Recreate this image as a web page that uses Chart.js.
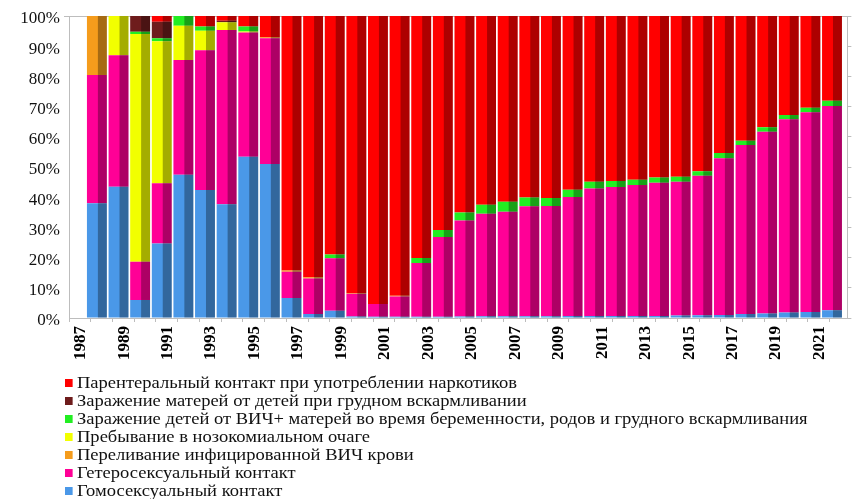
<!DOCTYPE html>
<html lang="ru">
<head>
<meta charset="utf-8">
<script src="https://cdn.jsdelivr.net/npm/chart.js@4.4.1/dist/chart.umd.min.js"></script>
<style>
body{margin:0;background:#fff;width:854px;height:499px;overflow:hidden;font-family:'Liberation Serif','Times New Roman',serif;}
#wrap{position:absolute;left:0;top:0;width:854px;height:378px;}
#legenda{position:absolute;left:65px;top:374px;transform:scaleX(1.09);transform-origin:0 0;}
#legenda div{height:18px;font-size:17px;color:#111;white-space:nowrap;display:flex;align-items:center;}
#legenda span.q{width:7px;height:8px;margin-right:4px;flex:none;}
</style>
</head>
<body>
<div id="wrap"><canvas id="grafico"></canvas></div>
<div id="legenda"></div>
<script>
const years = [1987,1988,1989,1990,1991,1992,1993,1994,1995,1996,1997,1998,1999,2000,2001,2002,2003,2004,2005,2006,
  2007,2008,2009,2010,2011,2012,2013,2014,2015,2016,2017,2018,2019,2020,2021];

// доли путей заражения, % (снизу вверх по стопке)
const homosexual = [38,43.5,6,24.7,47.4,42.4,37.7,53.4,51,6.6,1.3,2.4,0.5,0.4,0.4,0.4,0.4,0.5,0.6,0.6,
  0.6,0.6,0.7,0.7,0.7,0.7,0.7,0.8,0.9,1,1.3,1.5,1.8,2,2.6];
const heterosexual = [42.5,43.5,12.6,19.9,38,46.3,57.7,41.1,41.6,8.7,11.8,17.4,7.5,4.2,6.7,17.8,26.4,31.8,33.9,34.6,
  36.4,36.5,39.4,42.2,42.7,43.3,44.1,44.3,46.2,51.9,56,60.2,64,66.1,67.6];
const transfusion = [19.5,0,0,0,0,0,0,0,0.4,0.4,0.4,0,0.3,0,0.3,0,0,0,0,0,
  0,0,0,0,0,0,0,0,0,0,0,0,0,0,0];
const nosocomial = [0,13,75.4,47,11.4,6.4,2.5,0.4,0,0,0,0,0,0,0,0,0,0,0,0,
  0,0,0,0,0,0,0,0,0,0,0,0,0,0,0];
const children = [0,0,0.8,1,3.2,1.4,0,1.6,0,0,0,1.2,0,0,0,1.7,2.3,2.6,3,3.3,
  2.9,2.6,2.4,2.2,2,1.8,1.7,1.7,1.5,1.7,1.4,1.5,1.4,1.5,1.7];
const mothers = [0,0,5.2,5.5,0,0,0.5,0,0,0,0,0,0,0,0,0,0,0,0,0,
  0,0,0,0,0,0,0,0,0,0,0,0,0,0,0];
const parenteral = [0,0,0,1.9,0,3.5,1.6,3.5,7,84.3,86.5,79,91.7,95.4,92.6,80.1,70.9,65.1,62.5,61.5,
  60.1,60.3,57.5,54.9,54.6,54.2,53.5,53.2,51.4,45.4,41.3,36.8,32.8,30.4,28.1];

const names = [
  'Гомосексуальный контакт',
  'Гетеросексуальный контакт',
  'Переливание  инфицированной ВИЧ крови',
  'Пребывание в нозокомиальном очаге',
  'Заражение детей от ВИЧ+ матерей во время беременности, родов и грудного вскармливания',
  'Заражение матерей от детей при грудном вскармливании',
  'Парентеральный контакт при употреблении наркотиков'
];
const series = [homosexual, heterosexual, transfusion, nosocomial, children, mothers, parenteral];
const colors = ['#4a98e8','#ff0096','#f59c1c','#f2ff00','#22ee22','#6e1c1c','#ff0000'];
const yTicks = [0,10,20,30,40,50,60,70,80,90,100];
const xLabels = years.map(a => a % 2 === 1 ? String(a) : '');

const serif = "'Liberation Serif','Times New Roman',serif";
const axisGray = '#bdbdbd';

// затемнённая боковая грань столбика (имитация 3D)
const sombra = {
  id: 'sombra',
  afterDatasetsDraw(chart){
    const ctx = chart.ctx;
    ctx.save();
    chart.data.datasets.forEach((ds, i) => {
      chart.getDatasetMeta(i).data.forEach(bar => {
        const p = bar.getProps(['x','y','base','width'], true);
        const h = p.base - p.y;
        if (h <= 0.5) return;
        const x0 = p.x - p.width/2 + p.width*0.55;
        ctx.fillStyle = 'rgba(0,0,0,0.32)';
        ctx.fillRect(x0, p.y, p.x + p.width/2 - x0, h);
      });
    });
    ctx.restore();
  }
};

const grafico = new Chart(document.getElementById('grafico'), {
  type: 'bar',
  data: {
    datasets: series.map((s, i) => ({
      label: names[i],
      data: s.map((v, j) => ({x: years[j], y: v})),
      backgroundColor: colors[i],
      borderWidth: 0,
      barPercentage: 0.92,
      categoryPercentage: 1
    }))
  },
  options: {
    responsive: true,
    maintainAspectRatio: false,
    animation: false,
    layout: {padding: {top: 16, left: 0, right: 0, bottom: 0}},
    plugins: {legend: {display: false}, tooltip: {enabled: false}},
    scales: {
      x: {
        type: 'linear',
        stacked: true,
        offset: false,
        min: years[0] - 1.29,
        max: years[years.length-1] + 0.71,
        // передняя плоскость оси чуть шире задней (перспектива)
        afterBuildTicks: s => { s.ticks = [0].concat(years).map((a, k) => ({value: s.min + k*1.005})); },
        afterFit: s => { s.height = 60; },
        border: {display: true, color: axisGray, width: 1},
        grid: {display: true, drawOnChartArea: false, drawTicks: true, tickLength: 4, color: axisGray, offset: false},
        ticks: {
          autoSkip: false, minRotation: 90, maxRotation: 90, padding: 4, labelOffset: -10,
          color: '#000', font: {family: serif, size: 17, weight: 'bold'},
          callback: (v, k) => k > 0 ? xLabels[k-1] : ''
        }
      },
      y: {
        stacked: true,
        min: 0, max: 100,
        afterBuildTicks: s => { s.ticks = yTicks.map(v => ({value: v})); },
        afterFit: s => { s.width = 69; },
        border: {display: true, color: axisGray, width: 1},
        grid: {
          drawTicks: true, tickLength: 5,
          color: c => c.tick && c.tick.value === 100 ? axisGray : 'rgba(0,0,0,0)'
        },
        ticks: {padding: 4, labelOffset: 3, color: '#111', font: {family: serif, size: 17}, callback: v => v + '%'}
      },
      y2: {
        position: 'right',
        min: 0, max: 100,
        afterBuildTicks: s => { s.ticks = yTicks.map(v => ({value: v})); },
        afterFit: s => { s.width = 4; },
        border: {display: true, color: axisGray, width: 1},
        grid: {drawOnChartArea: false, drawTicks: true, tickLength: 4, color: axisGray},
        ticks: {display: false}
      }
    }
  },
  plugins: [sombra]
});

// легенда: в обратном порядке стопки
const legenda = document.getElementById('legenda');
for (let i = series.length - 1; i >= 0; i--) {
  const linha = document.createElement('div');
  linha.innerHTML = '<span class="q" style="background:' + colors[i] + '"></span>' + names[i];
  legenda.appendChild(linha);
}
</script>
</body>
</html>
